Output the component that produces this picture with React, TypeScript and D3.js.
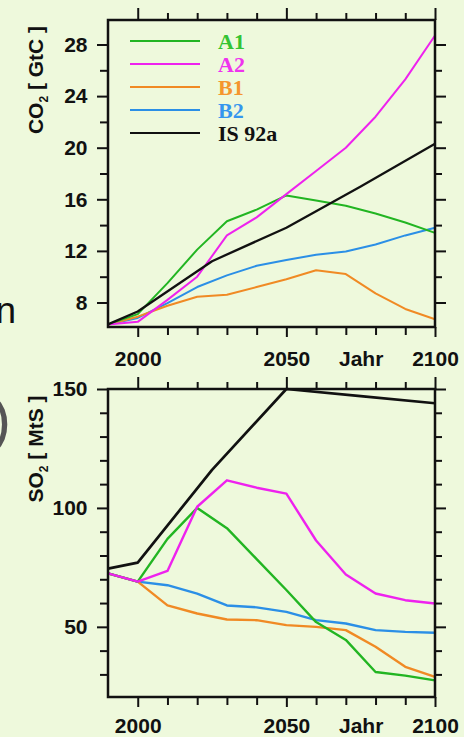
import React, { useEffect, useRef } from "react";
import * as d3 from "d3";

// decades used by the SRES scenarios, IS92a only has a few support years
const years = [1990, 2000, 2010, 2020, 2030, 2040, 2050, 2060, 2070, 2080, 2090, 2100];
const isYears = [1990, 2000, 2025, 2050, 2075, 2100];

const scenarios = ["A1", "A2", "B1", "B2", "IS 92a"];

// CO2 emissions [GtC]
const co2A1 = [6.3, 7.1, 9.5, 12.1, 14.3, 15.2, 16.3, 15.9, 15.5, 14.9, 14.2, 13.4];
const co2A2 = [6.3, 6.5, 8.2, 10.0, 13.2, 14.6, 16.4, 18.2, 20.0, 22.4, 25.3, 28.7];
const co2B1 = [6.3, 6.9, 7.75, 8.45, 8.6, 9.2, 9.8, 10.5, 10.2, 8.7, 7.5, 6.7];
const co2B2 = [6.3, 6.8, 7.95, 9.2, 10.1, 10.85, 11.3, 11.7, 11.95, 12.5, 13.2, 13.8];
const co2IS92a = [6.3, 7.3, 11.2, 13.8, 17.0, 20.3];

// SO2 emissions [MtS]
const so2A1 = [72.5, 69, 87, 100, 91.5, 78.5, 65.5, 52, 44.5, 31, 29.5, 27.5];
const so2A2 = [72.5, 69, 73.5, 100.5, 111.6, 108.5, 106, 86.3, 72, 64, 61.2, 59.8];
const so2B1 = [72.5, 69, 59, 55.6, 53.1, 52.8, 50.7, 50, 48.6, 41.6, 33.2, 29];
const so2B2 = [72.5, 69, 67.5, 64, 59, 58.2, 56.3, 52.8, 51.4, 48.6, 47.9, 47.5];
const so2IS92a = [74.5, 77, 116, 150, 147, 144];

const co2Ticks = [8, 12, 16, 20, 24, 28];
const so2Ticks = [50, 100, 150];
const xLabels = ["2000", "2050", "Jahr", "2100"];
const xLabelYears = [2000, 2050, 2075, 2100];

const colors = ["#22b522", "#ee22ee", "#f08a24", "#2b8fe6", "#111111"];
const legendColors = ["#33c433", "#ee33ee", "#f5962e", "#3596ee", "#111111"];

const W = 464, H = 737;
const sans = "'Liberation Sans', Arial, sans-serif";

const App = () => {
    const svgRef = useRef<SVGSVGElement>(null);

    useEffect(() => {
        const svg = d3.select(svgRef.current);
        svg.selectAll("*").remove();

        svg.append("rect").attr("width", W).attr("height", H).attr("fill", "#eef9dc");

        const x = d3.scaleLinear().domain([1990, 2100]).range([108, 435]);

        const panels = [
            {
                top: 20, bottom: 327, domain: [6.1, 29.9], ticks: co2Ticks,
                minor: d3.range(10, 28, 4), title: "CO", unit: " [ GtC ]", titleY: 80,
                series: [co2A1, co2A2, co2B1, co2B2], is: co2IS92a, width: 2, labelPad: 24.5,
            },
            {
                top: 389, bottom: 697, domain: [20.5, 150], ticks: so2Ticks,
                minor: [30, 40, 60, 70, 80, 90, 110, 120, 130, 140], title: "SO", unit: " [ MtS ]", titleY: 449,
                series: [so2A1, so2A2, so2B1, so2B2], is: so2IS92a, width: 2.4, labelPad: 21.5,
            },
        ];

        panels.forEach(p => {
            const y = d3.scaleLinear().domain(p.domain).range([p.bottom, p.top]);
            const g = svg.append("g");

            const styleAxis = (sel: any) => {
                sel.select(".domain").remove();
                sel.selectAll("line").attr("stroke", "#111").attr("stroke-width", 2);
                sel.selectAll("text")
                    .attr("font-family", sans).attr("font-size", 21)
                    .attr("font-weight", "bold").attr("fill", "#111");
            };

            // y axes, left with labels, right only marks
            g.append("g").attr("transform", "translate(108,0)")
                .call(d3.axisLeft(y).tickValues(p.ticks).tickSize(11).tickPadding(9.5).tickFormat(d3.format("d")))
                .call(styleAxis);
            g.append("g").attr("transform", "translate(108,0)")
                .call(d3.axisLeft(y).tickValues(p.minor).tickSize(8).tickFormat(() => ""))
                .call(styleAxis);
            g.append("g").attr("transform", "translate(435,0)")
                .call(d3.axisRight(y).tickValues(p.ticks).tickSize(11).tickFormat(() => ""))
                .call(styleAxis);
            g.append("g").attr("transform", "translate(435,0)")
                .call(d3.axisRight(y).tickValues(p.minor).tickSize(7).tickFormat(() => ""))
                .call(styleAxis);

            // x axes
            const decades = d3.range(2010, 2100, 10).filter(d => d !== 2050);
            g.append("g").attr("transform", `translate(0,${p.top})`)
                .call(d3.axisTop(x).tickValues([2000, 2050, 2100]).tickSize(12).tickFormat(() => ""))
                .call(styleAxis);
            g.append("g").attr("transform", `translate(0,${p.top})`)
                .call(d3.axisTop(x).tickValues(decades).tickSize(7).tickFormat(() => ""))
                .call(styleAxis);
            g.append("g").attr("transform", `translate(0,${p.bottom})`)
                .call(d3.axisBottom(x).tickValues([2000, 2050, 2100]).tickSize(10).tickFormat(() => ""))
                .call(styleAxis);
            g.append("g").attr("transform", `translate(0,${p.bottom})`)
                .call(d3.axisBottom(x).tickValues(decades).tickSize(8).tickFormat(() => ""))
                .call(styleAxis);
            g.append("g").attr("transform", `translate(0,${p.bottom})`)
                .call(d3.axisBottom(x).tickValues(xLabelYears).tickSize(0).tickPadding(p.labelPad)
                    .tickFormat((d, i) => xLabels[i]))
                .call(styleAxis);

            // data lines
            const line = d3.line<number>().x((d, i) => x(years[i])).y(d => y(d));
            const isLine = d3.line<number>().x((d, i) => x(isYears[i])).y(d => y(d));
            const order = [3, 2, 0, 1];
            order.forEach(k => {
                g.append("path").attr("d", line(p.series[k]))
                    .attr("fill", "none").attr("stroke", colors[k])
                    .attr("stroke-width", p.width).attr("stroke-linejoin", "round");
            });
            g.append("path").attr("d", isLine(p.is))
                .attr("fill", "none").attr("stroke", colors[4])
                .attr("stroke-width", p.width + 0.3).attr("stroke-linejoin", "round");

            // frame
            g.append("rect").attr("x", 108).attr("y", p.top)
                .attr("width", 435 - 108).attr("height", p.bottom - p.top)
                .attr("fill", "none").attr("stroke", "#111").attr("stroke-width", 2.5);

            // y title with subscript
            const t = g.append("text")
                .attr("transform", `translate(43,${p.titleY}) rotate(-90)`)
                .attr("text-anchor", "middle")
                .attr("font-family", sans).attr("font-size", 21).attr("font-weight", "bold")
                .attr("fill", "#111");
            t.append("tspan").text(p.title);
            t.append("tspan").attr("font-size", 12).attr("dy", 5).text("2");
            t.append("tspan").attr("dy", -5).text(p.unit);
        });

        // legend in the CO2 panel
        const ly = d3.scalePoint<string>().domain(scenarios).range([41, 133]);
        const legend = svg.append("g");
        scenarios.forEach((s, i) => {
            legend.append("line")
                .attr("x1", 130).attr("x2", 200)
                .attr("y1", ly(s)!).attr("y2", ly(s)!)
                .attr("stroke", colors[i]).attr("stroke-width", 2.2);
            legend.append("text")
                .attr("x", 218).attr("y", ly(s)! + 8)
                .attr("font-family", "'Liberation Serif', 'Times New Roman', serif")
                .attr("font-size", 22).attr("font-weight", "bold")
                .attr("fill", legendColors[i]).text(s);
        });

        // fragments of neighbouring text at the left edge
        svg.append("text").attr("x", 16).attr("y", 323).attr("text-anchor", "end")
            .attr("font-family", sans).attr("font-size", 37).attr("fill", "#111").text("n");
        svg.append("text").attr("x", -9).attr("y", 440)
            .attr("font-family", sans).attr("font-size", 60).attr("fill", "#555").text(")");
    }, []);

    return (
        <svg ref={svgRef} width={W} height={H}
            style={{ position: "absolute", left: 0, top: 0, display: "block" }} />
    );
};

export default App;
